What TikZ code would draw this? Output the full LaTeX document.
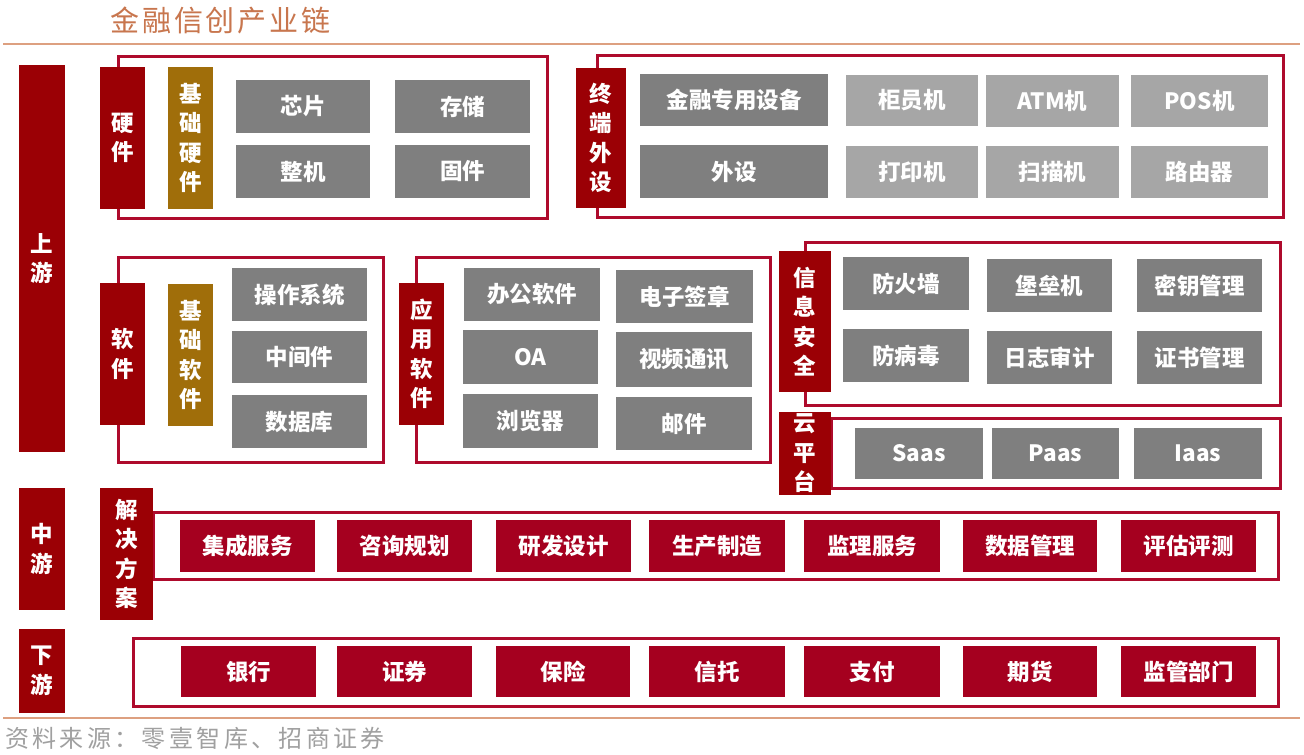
\documentclass[tikz,border=0pt]{standalone}
\usepackage{fontspec}
\newfontfamily\hei{Noto Sans CJK SC}
\newfontfamily\heiwide{Noto Sans CJK SC}[LetterSpace=10]
\newfontfamily\heifoot{Noto Sans CJK SC}[LetterSpace=14]
\definecolor{barred}{HTML}{9B0005}
\definecolor{boxred}{HTML}{A5001F}
\definecolor{outc}{HTML}{AE0A2C}
\definecolor{brownbar}{HTML}{A06E0A}
\definecolor{gdark}{HTML}{7F7F7F}
\definecolor{glight}{HTML}{A6A6A6}
\definecolor{titlec}{HTML}{C8764E}
\definecolor{rulec}{HTML}{DDA080}
\definecolor{footc}{HTML}{A0A0A0}
\newcommand\bx[7]{\node[#6, minimum width={(#4-#2)*1pt}, minimum height={(#5-#3)*1pt}] (#1) at ({(#2+#4)/2},{(#3+#5)/2}) {#7};}
\tikzset{
  base/.style={inner sep=0pt, outer sep=0pt, text=white, align=center, font={\hei\bfseries\fontsize{22.5}{29.5}\selectfont}},
  gbox/.style={base, fill=gdark},
  lbox/.style={base, fill=glight},
  rbox/.style={base, fill=boxred},
  bar/.style={base, fill=barred},
  bbar/.style={base, fill=brownbar},
  outl/.style={inner sep=0pt, outer sep=0pt, draw=outc, line width=3pt},
}
\begin{document}
\begin{tikzpicture}[x=1pt,y=-1pt]
\useasboundingbox (0,0) rectangle (1304,755);
\fill[white] (0,0) rectangle (1304,755);
% title and rules
\node[text=titlec, font={\heiwide\fontsize{29}{32}\selectfont}, inner sep=0pt, anchor=west] (title) at (110,20) {金融信创产业链};
\coordinate (tl) at (3,44); \coordinate (tr) at (1300,44);
\draw[rulec, line width=2pt] (tl) -- (tr);
\coordinate (bl) at (3,718); \coordinate (br) at (1300,718);
\draw[rulec, line width=2pt] (bl) -- (br);
\node[text=footc, font={\heifoot\fontsize{24}{27}\selectfont}, inner sep=0pt, anchor=west] (foot) at (5,738) {资料来源：零壹智库、招商证券};
% outlines
\bx{hwO}{118}{56}{547}{218}{outl}{}
\bx{termO}{597}{55}{1283}{217}{outl}{}
\bx{swO}{118}{257}{383}{462}{outl}{}
\bx{appO}{416}{257}{770}{462}{outl}{}
\bx{secO}{805}{242}{1280}{405}{outl}{}
\bx{cloudO}{831}{418}{1280}{488}{outl}{}
\bx{solO}{153}{512}{1278}{579}{outl}{}
\bx{downO}{133}{638}{1278}{706}{outl}{}
% bars
\bx{up}{19}{65}{65}{452}{bar}{上\\游}
\bx{mid}{19}{488}{65}{610}{bar}{中\\游}
\bx{down}{19}{629}{65}{713}{bar}{下\\游}
\bx{hw}{100}{67}{145}{209}{bar}{硬\\件}
\bx{hwb}{168}{67}{213}{209}{bbar}{基\\础\\硬\\件}
\bx{sw}{100}{283}{145}{425}{bar}{软\\件}
\bx{swb}{168}{284}{213}{426}{bbar}{基\\础\\软\\件}
\bx{term}{576}{68}{626}{208}{bar}{终\\端\\外\\设}
\bx{app}{399}{283}{444}{425}{bar}{应\\用\\软\\件}
\bx{sec}{779}{251}{831}{392}{bar}{信\\息\\安\\全}
\bx{cloud}{779}{412}{831}{495}{bar}{云\\平\\台}
\bx{sol}{100}{488}{153}{620}{bar}{解\\决\\方\\案}
% hardware
\bx{chip}{236}{80}{370}{133}{gbox}{芯片}
\bx{stor}{395}{80}{530}{133}{gbox}{存储}
\bx{mach}{236}{145}{370}{198}{gbox}{整机}
\bx{firm}{395}{145}{530}{198}{gbox}{固件}
% terminal
\bx{fin}{640}{74}{828}{126}{gbox}{金融专用设备}
\bx{peri}{640}{145}{828}{198}{gbox}{外设}
\bx{teller}{846}{75}{978}{126}{lbox}{柜员机}
\bx{atm}{986}{75}{1119}{127}{lbox}{ATM机}
\bx{pos}{1131}{75}{1268}{127}{lbox}{POS机}
\bx{prn}{846}{146}{978}{198}{lbox}{打印机}
\bx{scan}{986}{146}{1119}{198}{lbox}{扫描机}
\bx{rout}{1131}{146}{1268}{198}{lbox}{路由器}
% base software
\bx{os}{232}{268}{367}{321}{gbox}{操作系统}
\bx{midw}{232}{331}{367}{383}{gbox}{中间件}
\bx{db}{232}{395}{367}{448}{gbox}{数据库}
% application software
\bx{office}{464}{268}{600}{321}{gbox}{办公软件}
\bx{esign}{616}{270}{753}{323}{gbox}{电子签章}
\bx{oa}{463}{330}{598}{384}{gbox}{OA}
\bx{video}{616}{332}{752}{387}{gbox}{视频通讯}
\bx{brow}{463}{394}{598}{448}{gbox}{浏览器}
\bx{mail}{616}{397}{752}{450}{gbox}{邮件}
% security
\bx{fw}{843}{257}{969}{310}{gbox}{防火墙}
\bx{bast}{987}{259}{1112}{312}{gbox}{堡垒机}
\bx{key}{1137}{259}{1262}{312}{gbox}{密钥管理}
\bx{av}{843}{329}{969}{382}{gbox}{防病毒}
\bx{log}{987}{331}{1112}{384}{gbox}{日志审计}
\bx{cert}{1137}{331}{1262}{384}{gbox}{证书管理}
% cloud
\bx{saas}{855}{428}{983}{479}{gbox}{Saas}
\bx{paas}{992}{428}{1119}{479}{gbox}{Paas}
\bx{iaas}{1134}{428}{1262}{479}{gbox}{Iaas}
% midstream
\bx{m1}{180}{520}{315}{572}{rbox}{集成服务}
\bx{m2}{337}{520}{472}{572}{rbox}{咨询规划}
\bx{m3}{496}{520}{631}{572}{rbox}{研发设计}
\bx{m4}{649}{520}{785}{572}{rbox}{生产制造}
\bx{m5}{804}{520}{940}{572}{rbox}{监理服务}
\bx{m6}{963}{520}{1097}{572}{rbox}{数据管理}
\bx{m7}{1121}{520}{1256}{572}{rbox}{评估评测}
% downstream
\bx{d1}{181}{646}{316}{697}{rbox}{银行}
\bx{d2}{337}{646}{472}{697}{rbox}{证券}
\bx{d3}{496}{646}{630}{697}{rbox}{保险}
\bx{d4}{649}{646}{785}{697}{rbox}{信托}
\bx{d5}{804}{646}{940}{697}{rbox}{支付}
\bx{d6}{963}{646}{1097}{697}{rbox}{期货}
\bx{d7}{1121}{646}{1256}{697}{rbox}{监管部门}
\end{tikzpicture}
\end{document}
